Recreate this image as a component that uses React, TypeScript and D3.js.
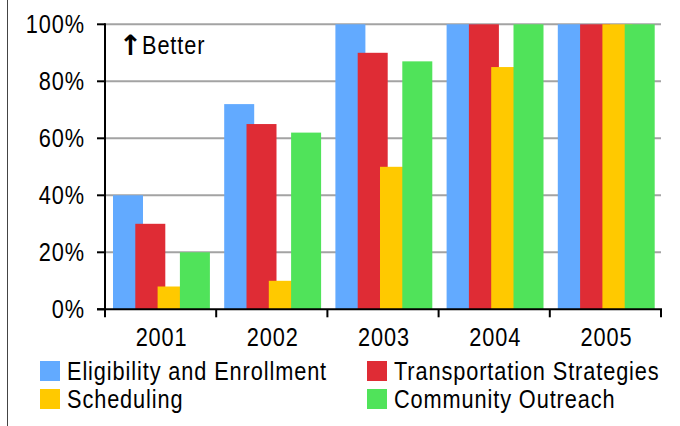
import React from "react";
import * as d3 from "d3";

const years = ["2001", "2002", "2003", "2004", "2005"];
const seriesNames = [
  "Eligibility and Enrollment",
  "Transportation Strategies",
  "Scheduling",
  "Community Outreach",
];
const seriesColors = ["#62AAFF", "#DF2C35", "#FFC900", "#50E35A"];
const eligibility = [40, 72, 100, 100, 100];
const transportation = [30, 65, 90, 100, 100];
const scheduling = [8, 10, 50, 85, 100];
const outreach = [20, 62, 87, 100, 100];
const yTicks = [0, 20, 40, 60, 80, 100];

const W = 680;
const H = 426;
const FONT = "'Liberation Sans', Arial, sans-serif";
const SX = 0.82;

function T({ x, y, anchor = "start", children, style }: { x: number; y: number; anchor?: string; children: React.ReactNode; style?: React.CSSProperties }) {
  return (
    <text
      transform={`translate(${x},${y}) scale(${SX},1)`}
      textAnchor={anchor}
      style={{ fontFamily: FONT, fontSize: 26.5, letterSpacing: 1.1, ...style }}
      fill="#000"
    >
      {children}
    </text>
  );
}

export default function App() {
  const values = [eligibility, transportation, scheduling, outreach];
  const x = d3.scaleBand<string>().domain(years).range([105, 661]).paddingInner(0).paddingOuter(0);
  const inner = d3.scaleBand<string>().domain(seriesNames).range([8, 97.2]).padding(0);
  const barW = 30;
  const y = d3.scaleLinear().domain([0, 100]).range([309.3, 24.3]);

  return (
    <svg width={W} height={H} style={{ position: "absolute", left: 0, top: 0, background: "#fff" }}>
      <rect x={0} y={0} width={W} height={H} fill="#fff" />
      <line x1={7.5} x2={7.5} y1={0} y2={H} stroke="#444" strokeWidth={1} />
      {yTicks.filter((t) => t > 0).map((t) => (
        <line key={t} x1={105} x2={661} y1={y(t)} y2={y(t)} stroke="#a3a3a3" strokeWidth={2} />
      ))}
      {years.map((yr, i) => (
        <g key={yr}>
          {seriesNames.map((s, j) => (
            <rect
              key={s}
              x={(x(yr) as number) + (inner(s) as number)}
              y={y(values[j][i])}
              width={barW}
              height={y(0) - y(values[j][i])}
              fill={seriesColors[j]}
            />
          ))}
        </g>
      ))}
      <line x1={105} x2={105} y1={23.3} y2={310.3} stroke="#000" strokeWidth={2} />
      <line x1={97} x2={662} y1={y(0)} y2={y(0)} stroke="#000" strokeWidth={2} />
      {yTicks.map((t) => (
        <g key={t}>
          <line x1={97} x2={105} y1={y(t)} y2={y(t)} stroke="#000" strokeWidth={2} />
          <T x={85} y={y(t) + 9} anchor="end">
            {t}%
          </T>
        </g>
      ))}
      {[...years.map((yr) => x(yr) as number), 661].map((px, i) => (
        <line key={i} x1={px} x2={px} y1={y(0)} y2={y(0) + 8} stroke="#000" strokeWidth={2} />
      ))}
      {years.map((yr) => (
        <T key={yr} x={(x(yr) as number) + x.bandwidth() / 2 + 1} y={346} anchor="middle">
          {yr}
        </T>
      ))}
      <text
        x={130.5}
        y={55}
        textAnchor="middle"
        style={{ fontFamily: "'DejaVu Sans', sans-serif", fontSize: 28, fontWeight: "bold" }}
        fill="#000"
      >
        ↑
      </text>
      <T x={142} y={54}>Better</T>
      {seriesNames.map((s, j) => {
        const col = j % 2;
        const row = Math.floor(j / 2);
        const lx = col === 0 ? 40 : 367;
        const ly = 361 + row * 28;
        return (
          <g key={s}>
            <rect x={lx} y={ly} width={20} height={20} fill={seriesColors[j]} />
            <T x={lx + 27} y={ly + 19}>
              {s}
            </T>
          </g>
        );
      })}
    </svg>
  );
}
